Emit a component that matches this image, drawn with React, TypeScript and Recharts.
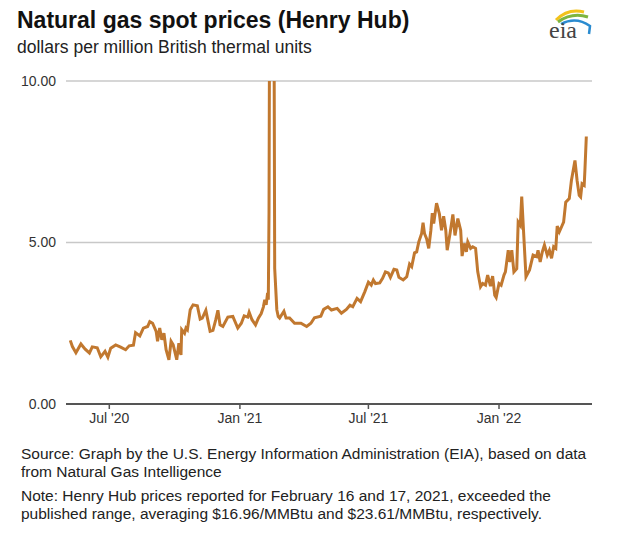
import React from "react"
import { CartesianGrid, Line, LineChart, XAxis, YAxis } from "recharts"

// Henry Hub daily spot price (dollars per MMBtu)
const dates = [
  "2020-05-07", "2020-05-10", "2020-05-15", "2020-05-22", "2020-05-28", "2020-06-03", "2020-06-07",
  "2020-06-14", "2020-06-19", "2020-06-25", "2020-06-29", "2020-07-03", "2020-07-10", "2020-07-17",
  "2020-07-24", "2020-07-29", "2020-08-04", "2020-08-07", "2020-08-13", "2020-08-18", "2020-08-24",
  "2020-08-27", "2020-08-31", "2020-09-05", "2020-09-07", "2020-09-10", "2020-09-13", "2020-09-16",
  "2020-09-19", "2020-09-23", "2020-09-26", "2020-09-29", "2020-10-04", "2020-10-07", "2020-10-10",
  "2020-10-11", "2020-10-15", "2020-10-17", "2020-10-19", "2020-10-23", "2020-10-27", "2020-11-02",
  "2020-11-06", "2020-11-09", "2020-11-14", "2020-11-20", "2020-11-24", "2020-11-28", "2020-12-01",
  "2020-12-04", "2020-12-08", "2020-12-15", "2020-12-22", "2020-12-29", "2021-01-03", "2021-01-07",
  "2021-01-12", "2021-01-14", "2021-01-18", "2021-01-23", "2021-01-27", "2021-01-31", "2021-02-03",
  "2021-02-05", "2021-02-07", "2021-02-09", "2021-02-10", "2021-02-11", "2021-02-12", "2021-02-16",
  "2021-02-17", "2021-02-18", "2021-02-19", "2021-02-22", "2021-02-24", "2021-02-26", "2021-03-04",
  "2021-03-07", "2021-03-12", "2021-03-19", "2021-03-28", "2021-04-05", "2021-04-11", "2021-04-16",
  "2021-04-25", "2021-04-29", "2021-05-05", "2021-05-10", "2021-05-18", "2021-05-24", "2021-05-31",
  "2021-06-05", "2021-06-09", "2021-06-15", "2021-06-20", "2021-06-26", "2021-07-01", "2021-07-05",
  "2021-07-08", "2021-07-11", "2021-07-17", "2021-07-21", "2021-07-25", "2021-07-29", "2021-08-01",
  "2021-08-06", "2021-08-10", "2021-08-13", "2021-08-19", "2021-08-24", "2021-08-28", "2021-08-31",
  "2021-09-04", "2021-09-07", "2021-09-10", "2021-09-14", "2021-09-16", "2021-09-18", "2021-09-21",
  "2021-09-24", "2021-09-27", "2021-09-29", "2021-10-01", "2021-10-05", "2021-10-09", "2021-10-12",
  "2021-10-15", "2021-10-18", "2021-10-20", "2021-10-24", "2021-10-28", "2021-10-31", "2021-11-04",
  "2021-11-08", "2021-11-10", "2021-11-13", "2021-11-16", "2021-11-18", "2021-11-22", "2021-11-25",
  "2021-11-29", "2021-12-02", "2021-12-06", "2021-12-09", "2021-12-13", "2021-12-16", "2021-12-20",
  "2021-12-23", "2021-12-26", "2021-12-28", "2022-01-01", "2022-01-04", "2022-01-08", "2022-01-10",
  "2022-01-14", "2022-01-16", "2022-01-19", "2022-01-22", "2022-01-26", "2022-01-28", "2022-01-31",
  "2022-02-02", "2022-02-05", "2022-02-08", "2022-02-13", "2022-02-18", "2022-02-23", "2022-02-25",
  "2022-02-28", "2022-03-03", "2022-03-06", "2022-03-10", "2022-03-13", "2022-03-16", "2022-03-19",
  "2022-03-22", "2022-03-24", "2022-03-27", "2022-03-30", "2022-04-02", "2022-04-05", "2022-04-10",
  "2022-04-13", "2022-04-18", "2022-04-21", "2022-04-24", "2022-04-26", "2022-04-28", "2022-05-01",
  "2022-05-02", "2022-05-04",
]

const prices = [
  1.97, 1.78, 1.59, 1.86, 1.7, 1.58, 1.77,
  1.74, 1.46, 1.63, 1.45, 1.73, 1.83, 1.76,
  1.68, 1.8, 1.82, 2.21, 2.11, 2.35, 2.4,
  2.55, 2.5, 2.25, 1.94, 2.35, 1.99, 2.19,
  1.68, 1.37, 1.94, 1.83, 1.37, 1.88, 1.52,
  2.3, 2.19, 2.35, 2.3, 2.92, 3.07, 3.04,
  2.63, 2.66, 2.9, 2.25, 2.28, 2.61, 2.9,
  2.45, 2.4, 2.69, 2.71, 2.35, 2.5, 2.73,
  2.69, 2.84, 2.61, 2.45, 2.66, 2.8, 3.0,
  3.23, 3.07, 3.44, 3.23, 5.93, 14.0, 16.96,
  23.61, 12.5, 4.2, 2.92, 2.71, 2.66, 2.87,
  2.66, 2.66, 2.5, 2.5, 2.4, 2.5, 2.67,
  2.72, 2.93, 3.01, 2.91, 2.96, 2.81, 2.93,
  3.06, 3.01, 3.27, 3.17, 3.48, 3.77, 3.68,
  3.84, 3.73, 3.75, 3.89, 4.09, 4.06, 3.92,
  4.17, 4.15, 3.92, 3.84, 3.94, 4.33, 4.25,
  4.68, 4.71, 5.02, 5.28, 5.61, 5.28, 5.12,
  4.82, 5.38, 5.91, 5.59, 6.22, 5.89, 5.38,
  5.81, 5.38, 4.76, 5.28, 5.87, 5.22, 5.74,
  5.38, 4.58, 4.97, 4.71, 5.02, 4.82, 4.87,
  4.82, 4.1, 3.63, 3.73, 3.68, 3.99, 3.65,
  3.96, 3.37, 3.3, 3.73, 3.68, 3.99, 4.09,
  4.76, 4.4, 4.76, 4.09, 4.19, 5.63, 5.53,
  6.42, 5.17, 3.94, 4.15, 4.61, 4.56, 4.76,
  4.4, 4.71, 4.92, 4.61, 4.76, 4.51, 4.87,
  4.82, 5.51, 5.33, 5.48, 5.63, 6.25, 6.36,
  6.92, 7.54, 6.92, 6.46, 6.41, 6.82, 6.77,
  7.23, 8.28,
]

const xTicks = ["2020-07-01", "2021-01-01", "2021-07-01", "2022-01-01"]
const yTicks = [0, 5, 10]
const monthNames = ["Jan", "Feb", "Mar", "Apr", "May", "Jun", "Jul", "Aug", "Sep", "Oct", "Nov", "Dec"]

const data = dates.map((d, i) => ({ t: Date.parse(d), price: prices[i] }))

const font = "'Liberation Sans', Arial, sans-serif"

const fmtDate = (v: number) => {
  const d = new Date(v)
  return `${monthNames[d.getUTCMonth()]} '${String(d.getUTCFullYear()).slice(2)}`
}

const EiaLogo = () => (
  <svg width={56} height={40} style={{ position: "absolute", left: 544, top: 4 }}>
    <path d="M12 16 Q24 4 40 8" stroke="#f2c21b" strokeWidth={3} fill="none" />
    <path d="M14 18 Q28 8 44 13" stroke="#7db53f" strokeWidth={3} fill="none" />
    <path d="M17 20 Q32 12 46 22 L45 30" stroke="#2a8bd0" strokeWidth={2.5} fill="none" />
    <text x={5} y={34} fontFamily="'Liberation Serif', 'DejaVu Serif', serif" fontSize={24} fill="#444">
      eia
    </text>
  </svg>
)

export default function App() {
  return (
    <div style={{ position: "absolute", left: 0, top: 0, width: 626, height: 553, background: "#fff", fontFamily: font }}>
      <div style={{ position: "absolute", left: 17, top: 7, fontSize: 23, fontWeight: "bold", color: "#111" }}>
        Natural gas spot prices (Henry Hub)
      </div>
      <div style={{ position: "absolute", left: 17, top: 37, fontSize: 17.5, color: "#222" }}>
        dollars per million British thermal units
      </div>
      <EiaLogo />
      <div style={{ position: "absolute", left: 0, top: 0 }}>
        <LineChart width={626} height={440} data={data} margin={{ top: 81, right: 34, bottom: 0, left: 0 }}>
          <CartesianGrid vertical={false} stroke="#c8c8c8" strokeWidth={1.5} />
          <XAxis
            dataKey="t"
            type="number"
            domain={[Date.parse("2020-05-01"), Date.parse("2022-05-12")]}
            ticks={xTicks.map((d) => Date.parse(d))}
            tickFormatter={fmtDate}
            height={36}
            tickSize={5}
            tickMargin={4}
            axisLine={{ stroke: "#555", strokeWidth: 2 }}
            tickLine={{ stroke: "#555", strokeWidth: 1.5 }}
            tick={{ fill: "#333", fontSize: 14, fontFamily: font }}
          />
          <YAxis
            domain={[0, 10]}
            ticks={yTicks}
            allowDataOverflow
            tickFormatter={(v) => v.toFixed(2)}
            width={66}
            axisLine={false}
            tickLine={false}
            tickMargin={4}
            tick={{ fill: "#333", fontSize: 14, fontFamily: font }}
          />
          <Line
            dataKey="price"
            type="linear"
            stroke="#c1782f"
            strokeWidth={3}
            dot={false}
            isAnimationActive={false}
          />
        </LineChart>
      </div>
      <div style={{ position: "absolute", left: 21, top: 445, fontSize: 15.5, lineHeight: "18px", color: "#222", width: 605 }}>
        Source: Graph by the U.S. Energy Information Administration (EIA), based on data
        <br />
        from Natural Gas Intelligence
      </div>
      <div style={{ position: "absolute", left: 21, top: 487, fontSize: 15.5, lineHeight: "18px", color: "#222", width: 605 }}>
        Note: Henry Hub prices reported for February 16 and 17, 2021, exceeded the
        <br />
        published range, averaging $16.96/MMBtu and $23.61/MMBtu, respectively.
      </div>
    </div>
  )
}
